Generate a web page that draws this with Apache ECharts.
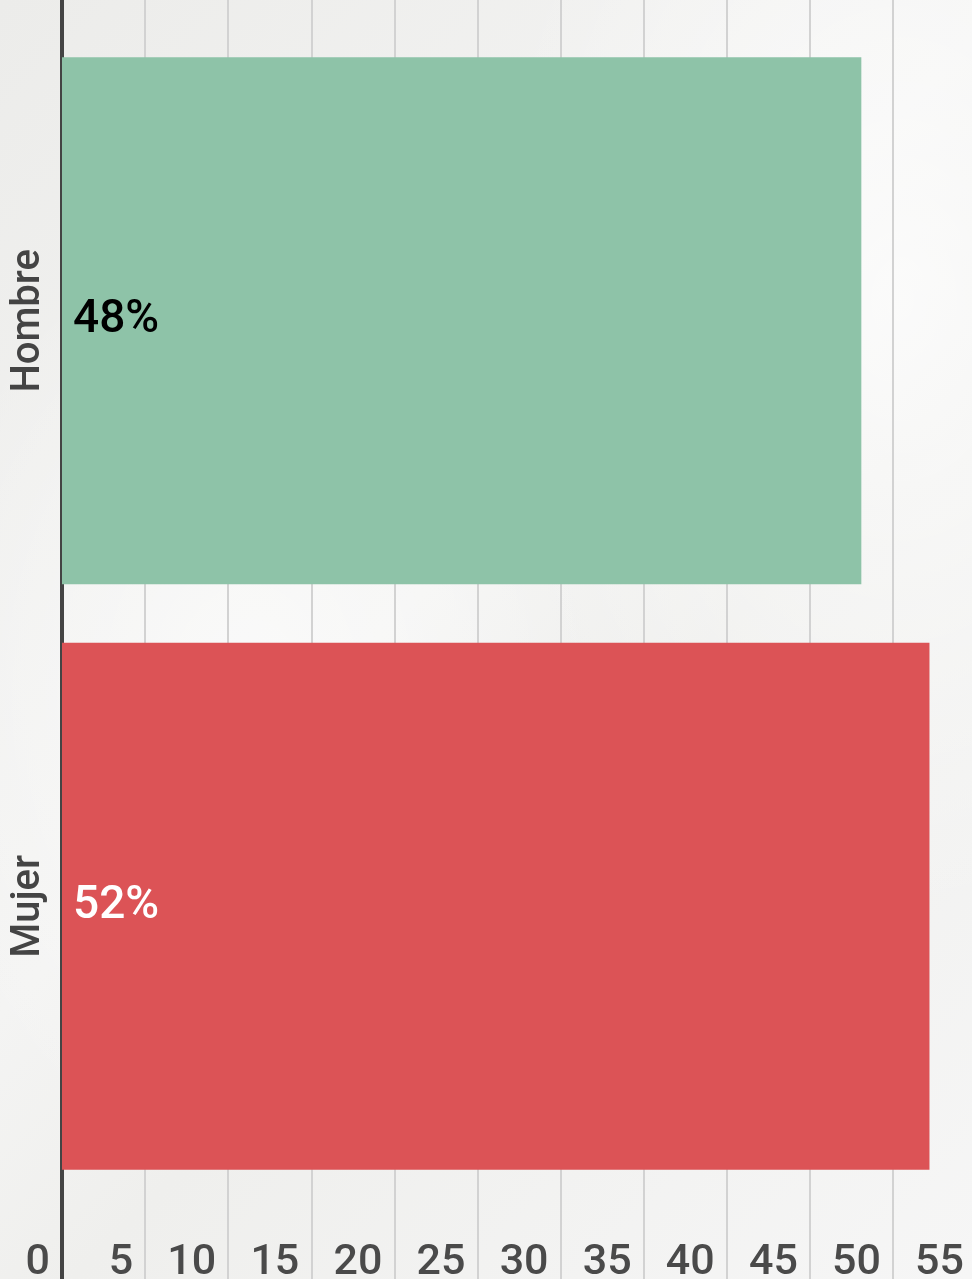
<!DOCTYPE html>
<html>
<head>
<meta charset="utf-8">
<title>Hombre / Mujer</title>
<script src="https://cdn.jsdelivr.net/npm/echarts@6/dist/echarts.min.js"></script>
<style>
  html, body { margin: 0; padding: 0; }
  body {
    width: 972px; height: 1279px; overflow: hidden;
    background:
      radial-gradient(ellipse 600px 900px at 900px 300px, rgba(255,255,255,0.7), rgba(255,255,255,0) 70%),
      radial-gradient(ellipse 500px 700px at 250px 700px, rgba(255,255,255,0.6), rgba(255,255,255,0) 70%),
      linear-gradient(135deg, #ececea 0%, #f4f4f3 45%, #efefed 60%, #f6f6f6 100%);
  }
  #chart { width: 972px; height: 1279px; }
</style>
</head>
<body>
<div id="chart"></div>
<script>
// data
const categories = ['Hombre', 'Mujer'];
const values = [48.1, 52.2];
const labels = ['48%', '52%'];
const barColors = ['#8ec3a8', '#dc5356'];
const labelColors = ['#000000', '#ffffff'];

const xMin = 0;
const xMax = 55;
const xStep = 5;

const chart = echarts.init(document.getElementById('chart'));

chart.setOption({
  backgroundColor: 'transparent',
  animation: false,
  textStyle: { fontFamily: 'Roboto' },
  grid: [
    // full-height grid: split lines, left axis line and tick labels
    { left: 62, width: 914, top: 0, bottom: 0, outerBoundsMode: 'none', containLabel: false },
    // grid holding the bars
    { left: 62, width: 914, top: 28, bottom: 80, outerBoundsMode: 'none', containLabel: false }
  ],
  xAxis: [
    {
      gridIndex: 0,
      type: 'value',
      min: xMin,
      max: xMax,
      interval: xStep,
      axisLine: { show: false },
      axisTick: { show: false },
      splitLine: { show: true, lineStyle: { color: '#d2d2d2', width: 2 } },
      axisLabel: {
        inside: true,
        margin: -6,
        align: 'right',
        padding: [0, 12, 0, 0],
        fontSize: 43,
        fontWeight: 500,
        color: '#4a4a4a',
        showMinLabel: true,
        showMaxLabel: true
      }
    },
    {
      gridIndex: 1,
      type: 'value',
      min: xMin,
      max: xMax,
      show: false
    }
  ],
  yAxis: [
    {
      gridIndex: 0,
      type: 'value',
      min: 0,
      max: 1,
      offset: 2,
      axisLine: { show: true, lineStyle: { color: '#444444', width: 4 } },
      axisTick: { show: false },
      axisLabel: { show: false },
      splitLine: { show: false }
    },
    {
      gridIndex: 1,
      type: 'category',
      inverse: true,
      data: categories,
      axisLine: { show: false },
      axisTick: { show: false },
      axisLabel: {
        rotate: 90,
        margin: 13,
        fontSize: 40,
        fontWeight: 500,
        color: '#444444'
      }
    }
  ],
  series: [{
    type: 'bar',
    xAxisIndex: 1,
    yAxisIndex: 1,
    barCategoryGap: '10%',
    data: values.map((v, i) => ({
      value: v,
      itemStyle: { color: barColors[i] },
      label: { color: labelColors[i] }
    })),
    label: {
      show: true,
      position: 'insideLeft',
      distance: 11,
      fontSize: 46,
      fontWeight: 500,
      formatter: (p) => labels[p.dataIndex]
    }
  }]
});
</script>
</body>
</html>
